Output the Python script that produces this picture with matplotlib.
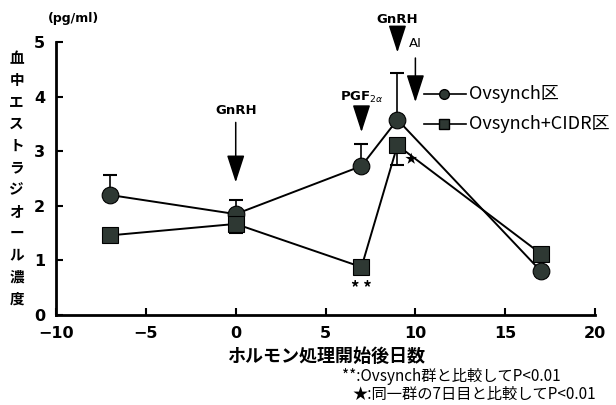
import numpy as np
import matplotlib.pyplot as plt

plt.rcParams['font.family'] = ['Noto Sans CJK JP', 'DejaVu Sans']

# days after start of hormone treatment
days = [-7, 0, 7, 9, 17]

# serum estradiol (pg/ml)
ovsynch = [2.2, 1.85, 2.73, 3.58, 0.8]
ovsynch_err_up = [0.37, 0.25, 0.4, 0.85, 0.0]
cidr = [1.46, 1.67, 0.88, 3.11, 1.12]
cidr_err_down = [0.0, 0.17, 0.0, 0.36, 0.0]

# treatment arrows: (label, day, label y, arrow top, arrow bottom)
arrows = [
    ('GnRH', 0, 3.75, 3.58, 2.38),
    ('PGF$_{2\\alpha}$', 7, 3.98, 3.85, 3.3),
    ('GnRH', 9, 5.42, 5.27, 4.76),
]
ai_day = 10

dark = '#2e3833'
head = '-|>,head_width=0.55,head_length=1.7'

fig = plt.figure(figsize=(6.16, 4.05), dpi=100)
ax = fig.add_axes([0.091, 0.222, 0.875, 0.674])

ax.plot(days, ovsynch, color='black', lw=1.4, zorder=2)
ax.plot(days, cidr, color='black', lw=1.4, zorder=2)
ax.errorbar(days, ovsynch, yerr=[np.zeros(5), ovsynch_err_up], fmt='none',
            ecolor='black', elinewidth=1.2, capsize=5, capthick=1.5, zorder=1)
ax.errorbar(days, cidr, yerr=[cidr_err_down, np.zeros(5)], fmt='none',
            ecolor='black', elinewidth=1.2, capsize=5, capthick=1.5, zorder=1)
ax.plot(days, ovsynch, 'o', ms=12, color=dark, mec='black', mew=0.8, zorder=3)
ax.plot(days, cidr, 's', ms=11, color=dark, mec='black', mew=0.8, zorder=3)

for label, d, ly, top, bottom in arrows:
    ax.text(d, ly, label, ha='center', va='center', fontsize=9.5,
            fontweight='bold', family='DejaVu Sans', clip_on=False)
    ax.annotate('', xy=(d, bottom), xytext=(d, top),
                arrowprops=dict(arrowstyle=head, color='black', lw=1.1),
                annotation_clip=False)
ax.annotate('', xy=(ai_day, 3.85), xytext=(ai_day, 4.76),
            arrowprops=dict(arrowstyle=head, color='black', lw=1.1),
            annotation_clip=False)
ax.text(ai_day, 4.97, 'AI', ha='center', va='center', fontsize=9.5,
        family='DejaVu Sans')

# significance marks
ax.text(7, 0.48, '* *', ha='center', va='center', fontsize=12, fontweight='bold')
ax.text(9.75, 2.85, '★', ha='center', va='center', fontsize=9)

# legend drawn as lines with markers
ax.plot([10.5, 12.8], [4.05, 4.05], color='black', lw=1.2, clip_on=False)
ax.plot([11.6], [4.05], 'o', ms=7, color=dark, mec='black', clip_on=False)
ax.text(13.0, 4.05, 'Ovsynch区', va='center', fontsize=13)
ax.plot([10.5, 12.8], [3.5, 3.5], color='black', lw=1.2, clip_on=False)
ax.plot([11.6], [3.5], 's', ms=7, color=dark, mec='black', clip_on=False)
ax.text(13.0, 3.5, 'Ovsynch+CIDR区', va='center', fontsize=13)

ax.set_xlim(-10, 20)
ax.set_ylim(0, 5)
ax.set_xticks(range(-10, 21, 5))
ax.set_xticklabels(['−10', '−5', '0', '5', '10', '15', '20'])
ax.set_yticks(range(0, 6))
for s in ['top', 'right']:
    ax.spines[s].set_visible(False)
for s in ['left', 'bottom']:
    ax.spines[s].set_linewidth(2)
ax.tick_params(direction='in', length=5, width=1.5, labelsize=11.5, pad=8)
for t in ax.get_xticklabels() + ax.get_yticklabels():
    t.set_fontweight('bold')
    t.set_family('DejaVu Sans')

ax.set_xlabel('ホルモン処理開始後日数', fontsize=13, fontweight='bold', labelpad=4)

ylab = '\n'.join('血中エストラジオール濃度')
fig.text(0.027, 0.56, ylab, ha='center', va='center', fontsize=10.5,
         fontweight='bold', linespacing=1.45)
fig.text(0.12, 0.955, '(pg/ml)', ha='center', va='center', fontsize=9,
         fontweight='bold', family='DejaVu Sans')

fig.text(0.555, 0.06, '**:Ovsynch群と比較してP<0.01', fontsize=11)
fig.text(0.572, 0.016, '★:同一群の7日目と比較してP<0.01', fontsize=11)

fig.savefig('out.png', dpi=100)
